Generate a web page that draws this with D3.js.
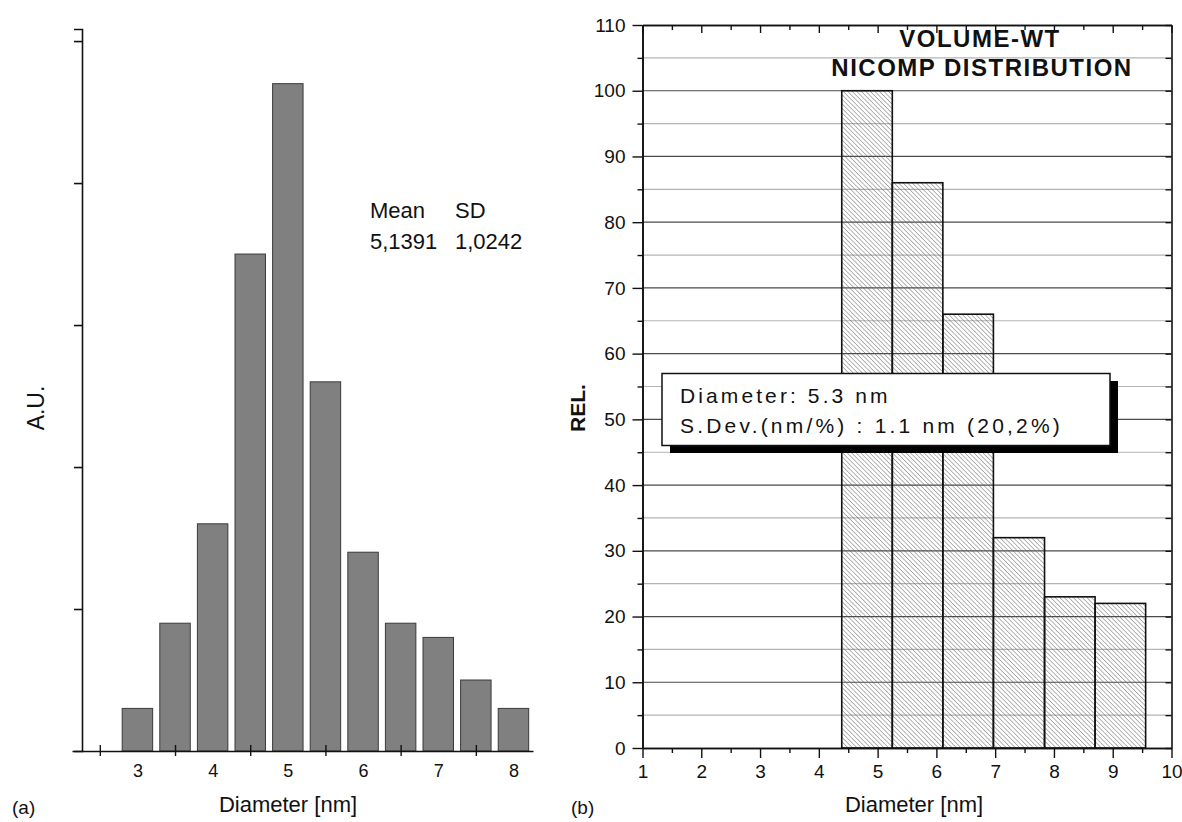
<!DOCTYPE html>
<html><head><meta charset="utf-8">
<script src="https://cdn.jsdelivr.net/npm/d3@7"></script>
<style>
body{margin:0;background:#fff;}
svg{display:block;font-family:"Liberation Sans",Arial,Helvetica,sans-serif;}
</style></head><body>
<svg id="c" width="1182" height="822"></svg>
<script>
// ---------- panel (a) data ----------
const aDiameters = [3, 3.5, 4, 4.5, 5, 5.5, 6, 6.5, 7, 7.5, 8];
const aCounts = [3, 9, 16, 35, 47, 26, 14, 9, 8, 5, 3];
const aTickValues = [2.5, 3.5, 4.5, 5.5, 6.5, 7.5];
const aLabelValues = [3, 4, 5, 6, 7, 8];
const aYTicks = [10, 20, 30, 40, 50];
const aStatHeads = ["Mean", "SD"];
const aStatValues = ["5,1391", "1,0242"];
// ---------- panel (b) data ----------
const bEdges = [4.39, 5.25, 6.11, 6.97, 7.84, 8.70, 9.56];
const bValues = [100, 86, 66, 32, 23, 22];
const bYLabels = [0, 10, 20, 30, 40, 50, 60, 70, 80, 90, 100, 110];
const bYMinor = [5, 15, 25, 35, 45, 55, 65, 75, 85, 95, 105];
const bXLabels = [1, 2, 3, 4, 5, 6, 7, 8, 9, 10];
const bXMinor = [1.5, 2.5, 3.5, 4.5, 5.5, 6.5, 7.5, 8.5, 9.5];
const bTitle = ["VOLUME-WT", "NICOMP DISTRIBUTION"];
const bBoxLines = ["Diameter: 5.3 nm", "S.Dev.(nm/%) : 1.1 nm (20,2%)"];

const svg = d3.select("#c");
const defs = svg.append("defs");
const pat = defs.append("pattern").attr("id", "hatch").attr("patternUnits", "userSpaceOnUse")
  .attr("width", 3.2).attr("height", 3.2).attr("patternTransform", "rotate(-45)");
pat.append("line").attr("x1", 0).attr("y1", 0).attr("x2", 0).attr("y2", 3.2)
  .attr("stroke", "#5a5a5a").attr("stroke-width", 0.9);

// ================= Panel (a) =================
const xA = d3.scaleLinear().domain([2.13, 8.26]).range([72, 533]);
const yA = d3.scaleLinear().domain([0, 50.85]).range([751, 29]);
const gA = svg.append("g");
const barW = 0.405;
gA.selectAll("rect.bar").data(aDiameters).enter().append("rect")
  .attr("x", d => xA(d - barW / 2))
  .attr("width", d => xA(d + barW / 2) - xA(d - barW / 2))
  .attr("y", (d, i) => yA(aCounts[i]))
  .attr("height", (d, i) => yA(0) - yA(aCounts[i]))
  .attr("fill", "#808080").attr("stroke", "#3a3a3a").attr("stroke-width", 1);

// y axis
const yAxA = gA.append("g").attr("transform", "translate(82,0)")
  .call(d3.axisLeft(yA).tickValues(aYTicks).tickSize(8).tickFormat(""));
yAxA.select(".domain").attr("stroke", "#111").attr("stroke-width", 1.6);
yAxA.selectAll(".tick line").attr("stroke", "#111").attr("stroke-width", 1.6);

// x axis (ticks)
const xAxA = gA.append("g").attr("transform", "translate(0,751)")
  .call(d3.axisBottom(xA).tickValues(aTickValues).tickSizeOuter(0).tickFormat(""));
xAxA.select(".domain").attr("stroke", "#111").attr("stroke-width", 1.6);
xAxA.selectAll(".tick line").attr("y1", -6).attr("y2", 5).attr("stroke", "#111").attr("stroke-width", 1.4);
// x axis labels
const xLabA = gA.append("g").attr("transform", "translate(0,751)")
  .call(d3.axisBottom(xA).tickValues(aLabelValues).tickSize(0).tickPadding(13).tickFormat(d3.format("d")));
xLabA.select(".domain").remove();
xLabA.selectAll("text").attr("font-size", 18).attr("fill", "#111").attr("font-family", "Liberation Sans, Arial, sans-serif");

gA.append("text").attr("x", 288).attr("y", 812).attr("text-anchor", "middle")
  .attr("font-size", 22).attr("fill", "#111").text("Diameter [nm]");
gA.append("text").attr("transform", "translate(44,408) rotate(-90)").attr("text-anchor", "middle")
  .attr("font-size", 23).attr("fill", "#111").text("A.U.");
gA.append("text").attr("x", 12).attr("y", 814).attr("font-size", 19).attr("fill", "#111").text("(a)");

const statX = [370, 455];
aStatHeads.forEach((t, i) => gA.append("text").attr("x", statX[i]).attr("y", 218).attr("font-size", 22).attr("fill", "#111").text(t));
aStatValues.forEach((t, i) => gA.append("text").attr("x", statX[i]).attr("y", 249).attr("font-size", 22).attr("fill", "#111").text(t));

// ================= Panel (b) =================
const xB = d3.scaleLinear().domain([1, 10]).range([642.5, 1171.5]);
const yB = d3.scaleLinear().domain([0, 110]).range([748, 25]);
const gB = svg.append("g");

// gridlines
gB.selectAll("line.gmin").data(bYMinor).enter().append("line")
  .attr("x1", xB(1)).attr("x2", xB(10)).attr("y1", d => yB(d)).attr("y2", d => yB(d))
  .attr("stroke", "#b4b4b4").attr("stroke-width", 1.2);
gB.selectAll("line.gmaj").data(bYLabels.slice(1, -1)).enter().append("line")
  .attr("x1", xB(1)).attr("x2", xB(10)).attr("y1", d => yB(d)).attr("y2", d => yB(d))
  .attr("stroke", "#4a4a4a").attr("stroke-width", 1.2);

// bars
gB.selectAll("rect.hb").data(bValues).enter().append("rect")
  .attr("x", (d, i) => xB(bEdges[i]))
  .attr("width", (d, i) => xB(bEdges[i + 1]) - xB(bEdges[i]))
  .attr("y", d => yB(d)).attr("height", d => yB(0) - yB(d))
  .attr("fill", "url(#hatch)").attr("stroke", "#111").attr("stroke-width", 1.6);

// frame axes
function styleAx(g) {
  g.select(".domain").attr("stroke", "#111").attr("stroke-width", 1.6);
  g.selectAll(".tick line").attr("stroke", "#111").attr("stroke-width", 1.4);
  g.selectAll("text").attr("font-size", 19).attr("fill", "#111").attr("font-family", "Liberation Sans, Arial, sans-serif");
}
// left
const lB = gB.append("g").attr("transform", `translate(${xB(1)},0)`)
  .call(d3.axisLeft(yB).tickValues(bYLabels).tickSize(10).tickPadding(7).tickSizeOuter(0));
styleAx(lB);
gB.append("g").attr("transform", `translate(${xB(1)},0)`)
  .call(d3.axisLeft(yB).tickValues(bYMinor).tickSize(5).tickFormat("").tickSizeOuter(0)).call(styleAx);
// bottom
const bB = gB.append("g").attr("transform", `translate(0,${yB(0)})`)
  .call(d3.axisBottom(xB).tickValues(bXLabels).tickSize(10).tickPadding(7).tickSizeOuter(0));
styleAx(bB);
gB.append("g").attr("transform", `translate(0,${yB(0)})`)
  .call(d3.axisBottom(xB).tickValues(bXMinor).tickSize(5).tickFormat("").tickSizeOuter(0)).call(styleAx);
// top
gB.append("g").attr("transform", `translate(0,${yB(110)})`)
  .call(d3.axisTop(xB).tickValues(bXLabels).tickSize(-8).tickFormat("").tickSizeOuter(0)).call(styleAx);
gB.append("g").attr("transform", `translate(0,${yB(110)})`)
  .call(d3.axisTop(xB).tickValues(bXMinor).tickSize(-5).tickFormat("").tickSizeOuter(0)).call(styleAx);
// right
gB.append("g").attr("transform", `translate(${xB(10)},0)`)
  .call(d3.axisRight(yB).tickValues(bYLabels.concat(bYMinor)).tickSize(-6).tickFormat("").tickSizeOuter(0)).call(styleAx);

// titles
gB.append("text").attr("x", 980).attr("y", 47).attr("text-anchor", "middle").attr("font-weight", "bold")
  .attr("font-size", 24).attr("letter-spacing", 1.5).attr("fill", "#111").text(bTitle[0]);
gB.append("text").attr("x", 982).attr("y", 76).attr("text-anchor", "middle").attr("font-weight", "bold")
  .attr("font-size", 24).attr("letter-spacing", 1.5).attr("fill", "#111").text(bTitle[1]);

// info box
gB.append("rect").attr("x", 670).attr("y", 381).attr("width", 448).attr("height", 72).attr("fill", "#000");
gB.append("rect").attr("x", 662).attr("y", 373.5).attr("width", 448).attr("height", 72)
  .attr("fill", "#fff").attr("stroke", "#111").attr("stroke-width", 1.5);
gB.append("text").attr("x", 680).attr("y", 403).attr("font-size", 21).attr("letter-spacing", 3.1).attr("fill", "#111").text(bBoxLines[0]);
gB.append("text").attr("x", 680).attr("y", 433).attr("font-size", 21).attr("letter-spacing", 3.2).attr("fill", "#111").text(bBoxLines[1]);

gB.append("text").attr("x", 914).attr("y", 812).attr("text-anchor", "middle")
  .attr("font-size", 22).attr("fill", "#111").text("Diameter [nm]");
gB.append("text").attr("transform", "translate(585,408) rotate(-90)").attr("text-anchor", "middle")
  .attr("font-size", 21).attr("font-weight", "bold").attr("fill", "#111").text("REL.");
gB.append("text").attr("x", 571).attr("y", 814).attr("font-size", 19).attr("fill", "#111").text("(b)");
</script>
</body></html>
